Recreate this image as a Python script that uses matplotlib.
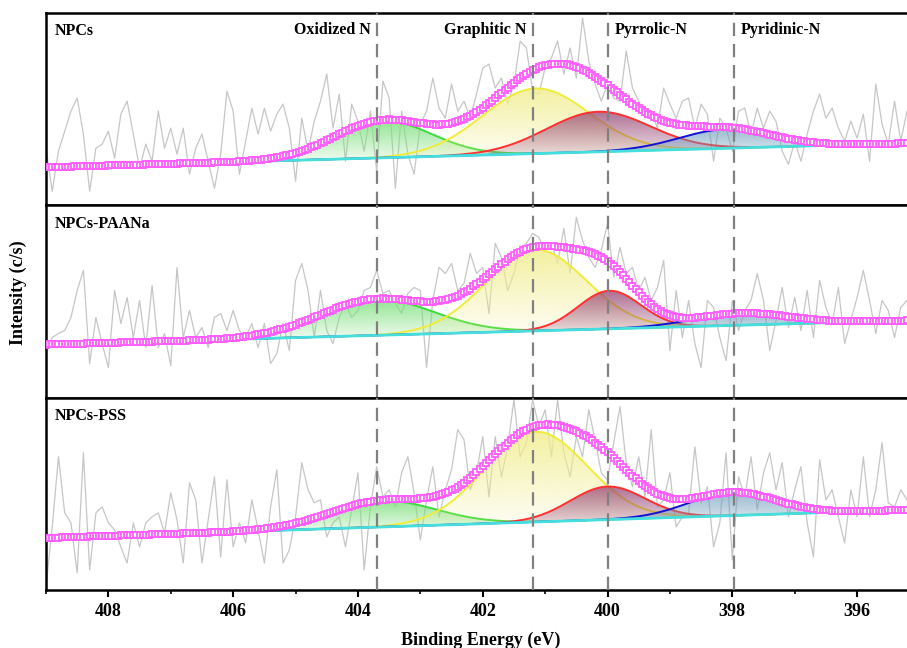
import numpy as np
import matplotlib
matplotlib.use('Agg')
import matplotlib.pyplot as plt
from matplotlib.colors import to_rgb
from matplotlib.ticker import MultipleLocator

plt.rcParams['font.family'] = ['Liberation Serif', 'DejaVu Serif']
plt.rcParams['font.weight'] = 'bold'

# raw N 1s counts, 0.1 eV steps from 409.0 eV down to 395.2 eV
E_START, E_STEP = 409.0, 0.1

raw_npcs = [57, 14, 54, 74, 94, 107, 71, 14, 57, 61,
            74, 47, 91, 104, 71, 37, 61, 44, 94, 57,
            77, 51, 77, 31, 57, 71, 44, 17, 51, 114,
            94, 31, 64, 97, 71, 97, 74, 91, 101, 77,
            24, 87, 54, 84, 104, 131, 77, 111, 44, 101,
            84, 54, 94, 34, 124, 107, 17, 94, 51, 31,
            81, 94, 127, 97, 87, 121, 94, 104, 87, 111,
            137, 141, 117, 127, 101, 121, 164, 157, 114, 111,
            137, 147, 164, 131, 157, 127, 187, 144, 121, 104,
            121, 107, 104, 154, 117, 104, 87, 94, 77, 117,
            101, 87, 104, 107, 77, 101, 91, 44, 87, 77,
            54, 94, 97, 71, 97, 77, 94, 84, 54, 41,
            64, 44, 71, 94, 111, 87, 97, 77, 64, 84,
            67, 91, 44, 121, 81, 61, 104, 64, 94]

raw_paana = [47, 60, 64, 67, 80, 107, 127, 34, 80, 54,
             30, 107, 74, 100, 60, 97, 50, 112, 50, 64,
             32, 130, 60, 87, 60, 70, 50, 80, 84, 67,
             87, 67, 60, 74, 50, 74, 34, 44, 74, 47,
             117, 134, 107, 60, 107, 67, 54, 80, 94, 80,
             87, 107, 110, 127, 104, 107, 94, 84, 104, 110,
             107, 30, 97, 130, 124, 134, 107, 114, 144, 124,
             130, 84, 154, 140, 107, 124, 149, 154, 164, 160,
             147, 154, 134, 169, 124, 180, 157, 140, 130, 147,
             174, 120, 150, 124, 130, 107, 120, 97, 110, 137,
             47, 107, 60, 97, 54, 30, 97, 90, 60, 37,
             97, 67, 87, 97, 124, 97, 47, 77, 110, 70,
             100, 67, 107, 60, 117, 90, 74, 110, 54, 77,
             100, 127, 97, 64, 97, 87, 60, 90, 97]

raw_pss = [3, 63, 133, 77, 67, 17, 137, 20, 77, 83,
           67, 60, 43, 27, 67, 43, 67, 73, 77, 57,
           97, 70, 27, 107, 90, 27, 70, 113, 33, 110,
           43, 67, 47, 90, 60, 27, 83, 120, 27, 40,
           73, 127, 100, 87, 90, 53, 67, 73, 43, 80,
           117, 20, 83, 123, 93, 100, 83, 117, 133, 97,
           50, 90, 123, 73, 100, 120, 160, 150, 100, 117,
           153, 93, 153, 113, 143, 190, 133, 147, 190, 163,
           180, 133, 190, 137, 113, 153, 133, 180, 150, 117,
           110, 147, 183, 127, 103, 133, 93, 160, 83, 90,
           117, 63, 73, 77, 143, 87, 103, 43, 67, 137,
           30, 113, 93, 133, 80, 117, 137, 100, 127, 73,
           100, 123, 67, 33, 130, 90, 100, 73, 47, 100,
           73, 133, 73, 100, 147, 87, 83, 100, 90]

sample_names = ['NPCs', 'NPCs-PAANa', 'NPCs-PSS']
species = ['Oxidized N', 'Graphitic N', 'Pyrrolic-N', 'Pyridinic-N']
species_be = [403.7, 401.2, 400.0, 397.97]

# fitted Gaussian components: centre (eV), height, FWHM (eV)
npcs_centre = [403.6, 401.15, 400.15, 398.1]
npcs_height = [37, 65, 40, 19]
npcs_fwhm = [1.84, 2.0, 1.95, 1.77]

paana_centre = [403.7, 401.15, 399.97, 397.85]
paana_height = [36, 81, 38, 12]
paana_fwhm = [2.15, 1.9, 1.18, 1.77]

pss_centre = [403.6, 401.15, 400.0, 398.0]
pss_height = [26, 90, 33, 23]
pss_fwhm = [2.0, 1.93, 1.41, 1.65]

# linear background, value at 409.0 eV and at 395.2 eV
npcs_bg = [38, 62]
paana_bg = [53, 77]
pss_bg = [52, 80]

raws = [raw_npcs, raw_paana, raw_pss]
centres = [npcs_centre, paana_centre, pss_centre]
heights = [npcs_height, paana_height, pss_height]
fwhms = [npcs_fwhm, paana_fwhm, pss_fwhm]
backgrounds = [npcs_bg, paana_bg, pss_bg]

line_cols = ['#3ddc3d', '#f0ec3c', '#ff3030', '#1212d2']
fill_cols = ['#7fe07f', '#f2ee90', '#94406f', '#6f9dbb']
fill_alpha = [0.85, 0.85, 0.75, 0.7]


def gradient_fill(ax, x, lower, upper, colour, alpha_top, z):
    poly = ax.fill_between(x, lower, upper, facecolor='none', edgecolor='none')
    grad = np.zeros((256, 1, 4))
    grad[:, 0, :3] = to_rgb(colour)
    grad[:, 0, 3] = np.linspace(0, alpha_top, 256)
    im = ax.imshow(grad, aspect='auto', origin='lower', interpolation='bilinear',
                   extent=[x[0], x[-1], lower.min(), upper.max()], zorder=z)
    im.set_clip_path(poly.get_paths()[0], transform=ax.transData)


fig = plt.figure(figsize=(9.07, 6.48), dpi=100)
axes = fig.subplots(3, 1, sharex=True, gridspec_kw=dict(hspace=0))
fig.subplots_adjust(left=0.0507, right=1.0, top=0.98, bottom=0.0895)

e_fit = np.linspace(409.0, 395.2, 277)

for k, ax in enumerate(axes):
    e_raw = E_START - E_STEP * np.arange(len(raws[k]))
    ax.plot(e_raw, raws[k], color='#c6c6c6', lw=0.9, zorder=1)

    b0, b1 = backgrounds[k]
    base = b0 + (b1 - b0) * (409.0 - e_fit) / (409.0 - 395.2)
    env = base.copy()
    for j in range(4):
        comp = heights[k][j] * np.exp(-4 * np.log(2) * (e_fit - centres[k][j]) ** 2 / fwhms[k][j] ** 2)
        env += comp
        gradient_fill(ax, e_fit, base, base + comp, fill_cols[j], fill_alpha[j], 2 + 0.1 * j)
        ax.plot(e_fit, base + comp, color=line_cols[j], lw=1.4, zorder=2.05 + 0.1 * j)

    ax.plot(e_fit, base, color='#45dede', lw=2, zorder=3)
    ax.plot(e_fit, env, color='#ff5cff', lw=1.2, marker='s', ms=4, mfc='white',
            mec='#ff5cff', mew=1.3, zorder=4)

    for be in species_be:
        ax.axvline(be, color='#808080', lw=1.6, ls=(0, (6, 3.5)), zorder=6)

    ax.text(0.0105, 0.905, sample_names[k], transform=ax.transAxes, ha='left', va='center',
            fontsize=11.5, fontweight='bold')

    ax.set_ylim(0, 192)
    ax.set_yticks([])
    ax.spines['right'].set_visible(False)
    for s in ['left', 'top', 'bottom']:
        ax.spines[s].set_linewidth(1.8)
    if k < 2:
        ax.tick_params(axis='x', which='both', bottom=False, labelbottom=False)

axes[0].set_xlim(409.0, 395.2)

top = axes[0]
for name, be in zip(species, species_be):
    if be > 401:
        top.text(be + 0.1, 175, name, ha='right', va='center', fontsize=11.5, fontweight='bold')
    else:
        top.text(be - 0.11, 175, name, ha='left', va='center', fontsize=11.5, fontweight='bold')

bottom = axes[2]
bottom.xaxis.set_major_locator(MultipleLocator(2))
bottom.xaxis.set_minor_locator(MultipleLocator(1))
bottom.tick_params(axis='x', which='major', direction='out', length=5, width=1.5,
                   labelsize=13, pad=4)
bottom.tick_params(axis='x', which='minor', direction='out', length=3, width=1.2)

fig.text(0.53, 0.012, 'Binding Energy (eV)', ha='center', va='center', fontsize=13, fontweight='bold')
fig.text(0.02, 0.548, 'Intensity (c/s)', ha='center', va='center', rotation=90,
         fontsize=13, fontweight='bold')

fig.savefig('out.png', dpi=100)
